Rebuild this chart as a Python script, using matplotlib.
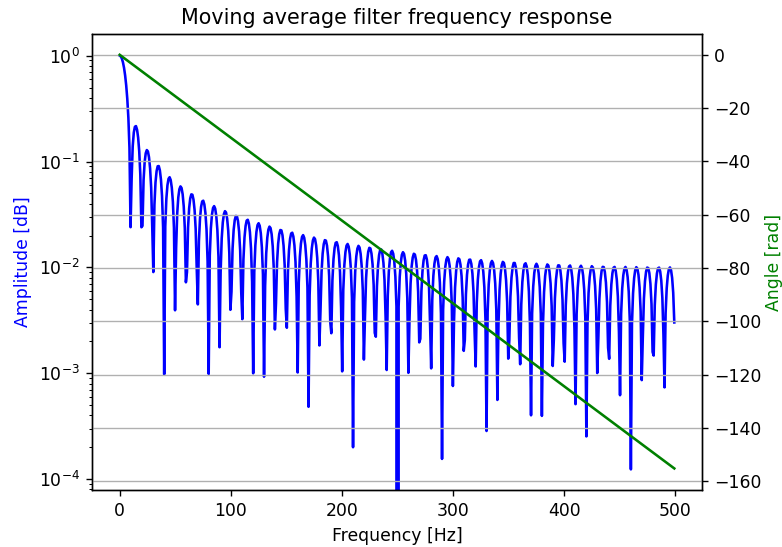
import numpy as np
import matplotlib
matplotlib.use("Agg")
import matplotlib.pyplot as plt

# filter definition: 100-tap moving average sampled at 1 kHz
n_taps = 100
fs = 1000.0
n_freqs = 512
taps = np.ones(n_taps) / n_taps

# frequency response on n_freqs points from 0 to just below Nyquist
spectrum = np.fft.rfft(taps, n=2 * n_freqs)[:n_freqs]
freq = np.arange(n_freqs) * (fs / 2) / n_freqs
amplitude = np.abs(spectrum)
# linear phase of the symmetric FIR (group delay of (N-1)/2 samples)
angle = -2 * np.pi * freq / fs * (n_taps - 1) / 2

DPI = 124
fig, ax1 = plt.subplots(figsize=(782 / DPI, 547 / DPI), dpi=DPI)
fig.subplots_adjust(left=0.1176, right=0.8977, top=0.9378, bottom=0.1042)

ax1.set_title("Moving average filter frequency response")
ax1.plot(freq, amplitude, "b")
ax1.set_yscale("log")
ax1.set_ylim(7.9e-5, 1.6)
ax1.set_ylabel("Amplitude [dB]", color="b")
ax1.set_xlabel("Frequency [Hz]")

ax2 = ax1.twinx()
ax2.plot(freq, angle, "g")
ax2.set_ylabel("Angle [rad]", color="g", labelpad=2)
ax2.grid(True)
ax2.set_ylim(-163.3, 7.8)
ax1.set_xlim(-24.95, 523.95)

plt.savefig("out.png", dpi=DPI)
